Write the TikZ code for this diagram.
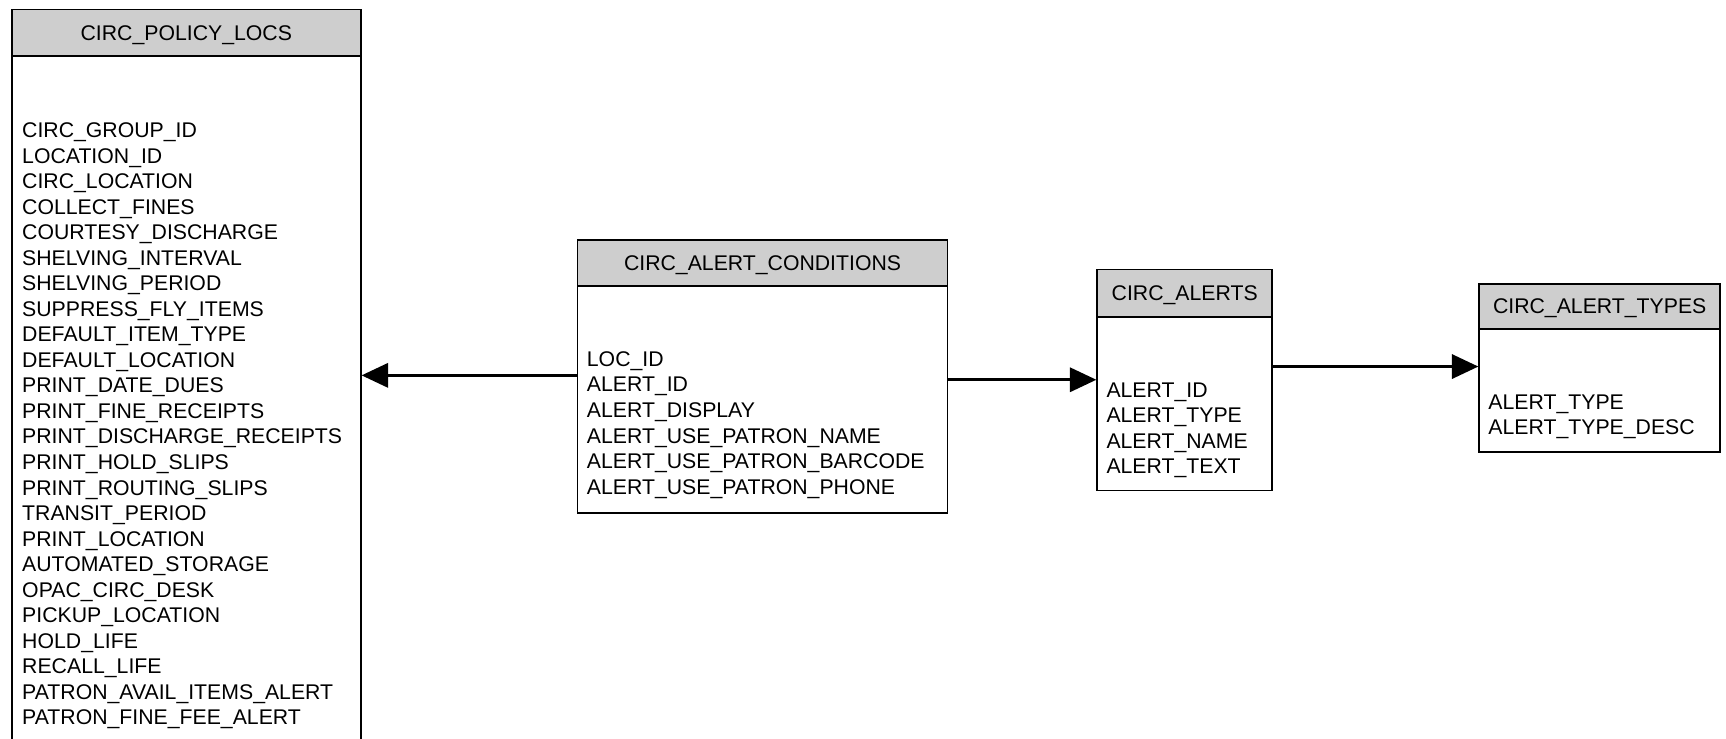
\documentclass[tikz,border=0pt]{standalone}
\usepackage{fontspec}
\setmainfont{Liberation Sans}
\usetikzlibrary{arrows.meta}
\definecolor{hdrgray}{RGB}{206,206,206}
\tikzset{
  tbody/.style={draw=black, line width=1.5pt, fill=white, inner sep=0pt, anchor=north west},
  thead/.style={draw=black, line width=1.5pt, fill=hdrgray, inner sep=0pt, anchor=north west,
    font=\fontsize{19.3}{23.2}\selectfont, text height=13.8pt, text depth=0pt},
  field/.style={inner sep=0pt, anchor=base west, font=\fontsize{19.3}{23.2}\selectfont},
  conn/.style={line width=2.4pt, -{Triangle[length=24pt,width=22pt]}},
}
\begin{document}
\begin{tikzpicture}[x=1pt,y=-1pt]
\useasboundingbox (0,0) rectangle (1568,671.3);

% CIRC_POLICY_LOCS
\node[tbody, minimum width=317pt, minimum height=690pt] (cpl) at (10,8) {};
\node[thead, minimum width=317pt, minimum height=42pt] (cplh) at (10,8) {CIRC\_POLICY\_LOCS};
\foreach \t [count=\i] in {CIRC\_GROUP\_ID, LOCATION\_ID, CIRC\_LOCATION, COLLECT\_FINES,
  COURTESY\_DISCHARGE, SHELVING\_INTERVAL, SHELVING\_PERIOD, SUPPRESS\_FLY\_ITEMS,
  DEFAULT\_ITEM\_TYPE, DEFAULT\_LOCATION, PRINT\_DATE\_DUES, PRINT\_FINE\_RECEIPTS,
  PRINT\_DISCHARGE\_RECEIPTS, PRINT\_HOLD\_SLIPS, PRINT\_ROUTING\_SLIPS, TRANSIT\_PERIOD,
  PRINT\_LOCATION, AUTOMATED\_STORAGE, OPAC\_CIRC\_DESK, PICKUP\_LOCATION, HOLD\_LIFE,
  RECALL\_LIFE, PATRON\_AVAIL\_ITEMS\_ALERT, PATRON\_FINE\_FEE\_ALERT}
  \node[field] (cplf\i) at (20,{124.9+(\i-1)*23.2}) {\t};

% CIRC_ALERT_CONDITIONS
\node[tbody, minimum width=336pt, minimum height=248pt] (cac) at (524,217) {};
\node[thead, minimum width=336pt, minimum height=42pt] (cach) at (524,217) {CIRC\_ALERT\_CONDITIONS};
\foreach \t [count=\i] in {LOC\_ID, ALERT\_ID, ALERT\_DISPLAY, ALERT\_USE\_PATRON\_NAME,
  ALERT\_USE\_PATRON\_BARCODE, ALERT\_USE\_PATRON\_PHONE}
  \node[field] (cacf\i) at (533,{332.9+(\i-1)*23.2}) {\t};

% CIRC_ALERTS
\node[tbody, minimum width=159pt, minimum height=201pt] (ca) at (996,244) {};
\node[thead, minimum width=159pt, minimum height=43pt] (cah) at (996,244) {CIRC\_ALERTS};
\foreach \t [count=\i] in {ALERT\_ID, ALERT\_TYPE, ALERT\_NAME, ALERT\_TEXT}
  \node[field] (caf\i) at (1005,{360.9+(\i-1)*23.2}) {\t};

% CIRC_ALERT_TYPES
\node[tbody, minimum width=219pt, minimum height=153pt] (cat) at (1343,257) {};
\node[thead, minimum width=219pt, minimum height=41pt] (cath) at (1343,257) {CIRC\_ALERT\_TYPES};
\foreach \t [count=\i] in {ALERT\_TYPE, ALERT\_TYPE\_DESC}
  \node[field] (catf\i) at (1352,{371.9+(\i-1)*23.2}) {\t};

% connectors
\draw[conn] (cac.west |- 0,341) -- (cpl.east |- 0,341);
\draw[conn] (cac.east |- 0,345) -- (ca.west |- 0,345);
\draw[conn] (ca.east |- 0,333) -- (cat.west |- 0,333);
\end{tikzpicture}
\end{document}
